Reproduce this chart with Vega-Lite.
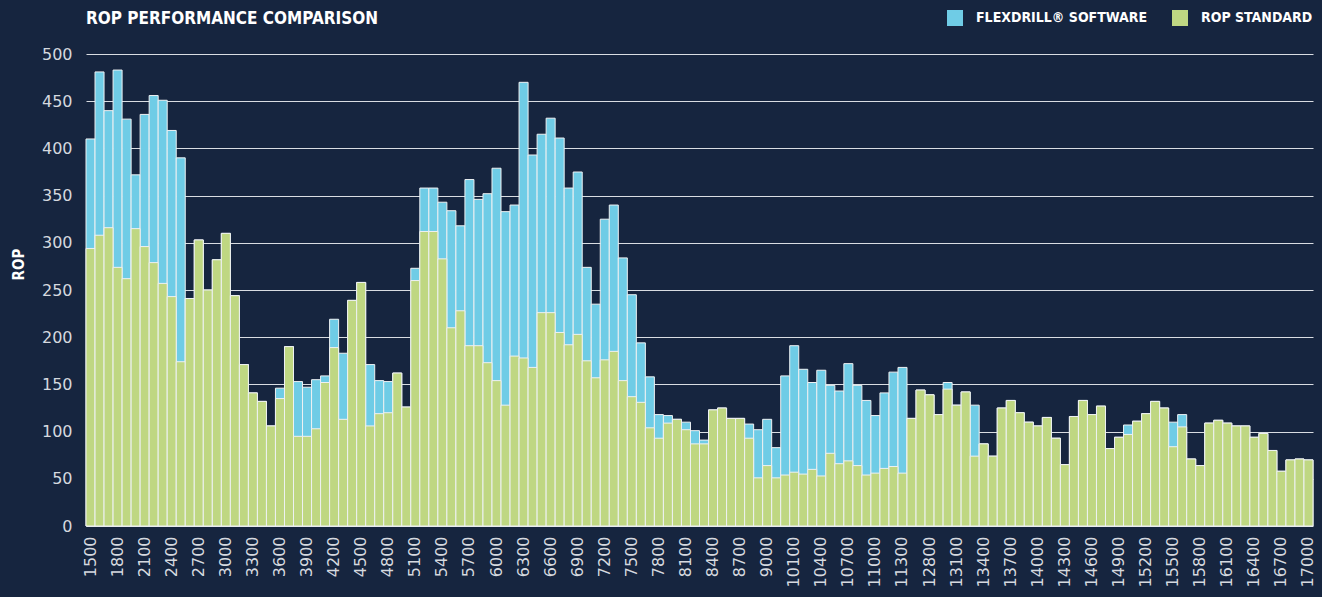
{
"$schema": "https://vega.github.io/schema/vega-lite/v6.json",
"width": 1227,
"height": 472,
"autosize": {"type": "none"},
"padding": {"left": 86, "top": 54, "right": 9, "bottom": 71},
"background": "#16253f",
"title": {"text": "ROP PERFORMANCE COMPARISON", "anchor": "start", "frame": "group", "font": "'DejaVu Sans Condensed', 'Liberation Sans Narrow', 'Roboto Condensed', 'Liberation Sans', sans-serif", "fontSize": 17, "fontWeight": "bold", "color": "#ffffff", "offset": -18},
"data": {"values": [
{"d":1500,"f":410,"s":294},{"d":1600,"f":481,"s":308},{"d":1700,"f":440,"s":316},{"d":1800,"f":483,"s":274},{"d":1900,"f":431,"s":262},
{"d":2000,"f":372,"s":315},{"d":2100,"f":436,"s":296},{"d":2200,"f":456,"s":279},{"d":2300,"f":451,"s":257},{"d":2400,"f":419,"s":243},
{"d":2500,"f":390,"s":174},{"d":2600,"f":241,"s":241},{"d":2700,"f":303,"s":303},{"d":2800,"f":250,"s":250},{"d":2900,"f":282,"s":282},
{"d":3000,"f":310,"s":310},{"d":3100,"f":244,"s":244},{"d":3200,"f":171,"s":171},{"d":3300,"f":141,"s":141},{"d":3400,"f":132,"s":132},
{"d":3500,"f":106,"s":106},{"d":3600,"f":146,"s":135},{"d":3700,"f":190,"s":190},{"d":3800,"f":153,"s":95},{"d":3900,"f":147,"s":95},
{"d":4000,"f":155,"s":103},{"d":4100,"f":159,"s":152},{"d":4200,"f":219,"s":189},{"d":4300,"f":183,"s":113},{"d":4400,"f":239,"s":239},
{"d":4500,"f":258,"s":258},{"d":4600,"f":171,"s":106},{"d":4700,"f":154,"s":119},{"d":4800,"f":153,"s":120},{"d":4900,"f":162,"s":162},
{"d":5000,"f":126,"s":126},{"d":5100,"f":273,"s":260},{"d":5200,"f":358,"s":312},{"d":5300,"f":358,"s":312},{"d":5400,"f":343,"s":283},
{"d":5500,"f":334,"s":210},{"d":5600,"f":318,"s":228},{"d":5700,"f":367,"s":191},{"d":5800,"f":346,"s":191},{"d":5900,"f":352,"s":173},
{"d":6000,"f":379,"s":154},{"d":6100,"f":333,"s":128},{"d":6200,"f":340,"s":180},{"d":6300,"f":470,"s":178},{"d":6400,"f":393,"s":168},
{"d":6500,"f":415,"s":226},{"d":6600,"f":432,"s":226},{"d":6700,"f":411,"s":205},{"d":6800,"f":358,"s":192},{"d":6900,"f":375,"s":203},
{"d":7000,"f":274,"s":175},{"d":7100,"f":235,"s":157},{"d":7200,"f":325,"s":176},{"d":7300,"f":340,"s":185},{"d":7400,"f":284,"s":154},
{"d":7500,"f":245,"s":137},{"d":7600,"f":194,"s":131},{"d":7700,"f":158,"s":104},{"d":7800,"f":118,"s":93},{"d":7900,"f":117,"s":109},
{"d":8000,"f":113,"s":113},{"d":8100,"f":110,"s":102},{"d":8200,"f":101,"s":87},{"d":8300,"f":91,"s":87},{"d":8400,"f":123,"s":123},
{"d":8500,"f":125,"s":125},{"d":8600,"f":114,"s":114},{"d":8700,"f":114,"s":114},{"d":8800,"f":108,"s":93},{"d":8900,"f":102,"s":51},
{"d":9000,"f":113,"s":64},{"d":9100,"f":83,"s":51},{"d":10000,"f":159,"s":54},{"d":10100,"f":191,"s":57},{"d":10200,"f":166,"s":55},
{"d":10300,"f":152,"s":60},{"d":10400,"f":165,"s":53},{"d":10500,"f":149,"s":77},{"d":10600,"f":143,"s":66},{"d":10700,"f":172,"s":69},
{"d":10800,"f":149,"s":64},{"d":10900,"f":133,"s":54},{"d":11000,"f":117,"s":56},{"d":11100,"f":141,"s":61},{"d":11200,"f":163,"s":63},
{"d":11300,"f":168,"s":56},{"d":11400,"f":114,"s":114},{"d":12700,"f":144,"s":144},{"d":12800,"f":139,"s":139},{"d":12900,"f":118,"s":118},
{"d":13000,"f":152,"s":145},{"d":13100,"f":128,"s":128},{"d":13200,"f":142,"s":142},{"d":13300,"f":128,"s":74},{"d":13400,"f":87,"s":87},
{"d":13500,"f":74,"s":74},{"d":13600,"f":125,"s":125},{"d":13700,"f":133,"s":133},{"d":13800,"f":120,"s":120},{"d":13900,"f":110,"s":110},
{"d":14000,"f":106,"s":106},{"d":14100,"f":115,"s":115},{"d":14200,"f":93,"s":93},{"d":14300,"f":65,"s":65},{"d":14400,"f":116,"s":116},
{"d":14500,"f":133,"s":133},{"d":14600,"f":118,"s":118},{"d":14700,"f":127,"s":127},{"d":14800,"f":82,"s":82},{"d":14900,"f":94,"s":94},
{"d":15000,"f":107,"s":97},{"d":15100,"f":111,"s":111},{"d":15200,"f":119,"s":119},{"d":15300,"f":132,"s":132},{"d":15400,"f":125,"s":125},
{"d":15500,"f":110,"s":84},{"d":15600,"f":118,"s":105},{"d":15700,"f":71,"s":71},{"d":15800,"f":64,"s":64},{"d":15900,"f":109,"s":109},
{"d":16000,"f":112,"s":112},{"d":16100,"f":109,"s":109},{"d":16200,"f":106,"s":106},{"d":16300,"f":106,"s":106},{"d":16400,"f":94,"s":94},
{"d":16500,"f":98,"s":98},{"d":16600,"f":80,"s":80},{"d":16700,"f":58,"s":58},{"d":16800,"f":70,"s":70},{"d":16900,"f":71,"s":71},
{"d":17000,"f":70,"s":70}
]},
"encoding": {
  "x": {"field": "d", "type": "ordinal", "sort": "ascending",
    "scale": {"paddingInner": 0, "paddingOuter": 0},
    "axis": {"title": null, "labelAngle": 270, "domain": false, "ticks": false, "grid": false, "labelPadding": 10,
      "labelFont": "DejaVu Sans", "labelFontSize": 16, "labelColor": "#d5d9df",
      "values": [1500,1800,2100,2400,2700,3000,3300,3600,3900,4200,4500,4800,5100,5400,5700,6000,6300,6600,6900,7200,7500,7800,8100,8400,8700,9000,10100,10400,10700,11000,11300,12800,13100,13400,13700,14000,14300,14600,14900,15200,15500,15800,16100,16400,16700,17000]}}
},
"layer": [
  {"mark": {"type": "bar", "stroke": "#eef1f3", "strokeWidth": 1},
   "encoding": {
     "y": {"field": "f", "type": "quantitative", "scale": {"domain": [0, 500]},
       "axis": {"title": "ROP", "values": [0,50,100,150,200,250,300,350,400,450,500], "grid": true, "gridColor": "#d9dde2", "gridWidth": 1,
         "domain": false, "ticks": false, "labelPadding": 14, "labelFont": "DejaVu Sans", "labelFontSize": 16, "labelColor": "#d5d9df",
         "titleColor": "#ffffff", "titleFont": "'DejaVu Sans Condensed', 'Liberation Sans Narrow', 'Roboto Condensed', 'Liberation Sans', sans-serif", "titleFontWeight": "bold", "titleFontSize": 15,
         "titleAngle": 270, "titleX": -68, "titleY": 210, "titleAlign": "center", "titleBaseline": "middle"}},
     "color": {"datum": "FLEXDRILL® SOFTWARE"}
   }},
  {"mark": {"type": "bar", "stroke": "#eef1f3", "strokeWidth": 1},
   "encoding": {
     "y": {"field": "s", "type": "quantitative"},
     "color": {"datum": "ROP STANDARD",
       "scale": {"domain": ["FLEXDRILL® SOFTWARE", "ROP STANDARD"], "range": ["#6fcce6", "#bfd782"]},
       "legend": {"title": null, "orient": "none", "legendX": 861, "legendY": -44, "direction": "horizontal",
         "symbolType": "square", "symbolSize": 256, "symbolStrokeWidth": 0, "symbolOpacity": 1,
         "labelFont": "'DejaVu Sans Condensed', 'Liberation Sans Narrow', 'Roboto Condensed', 'Liberation Sans', sans-serif", "labelFontWeight": "bold", "labelFontSize": 14, "labelColor": "#ffffff",
         "labelLimit": 400, "labelOffset": 13, "columnPadding": 24}}
   }}
],
"config": {"view": {"stroke": null}}
}
